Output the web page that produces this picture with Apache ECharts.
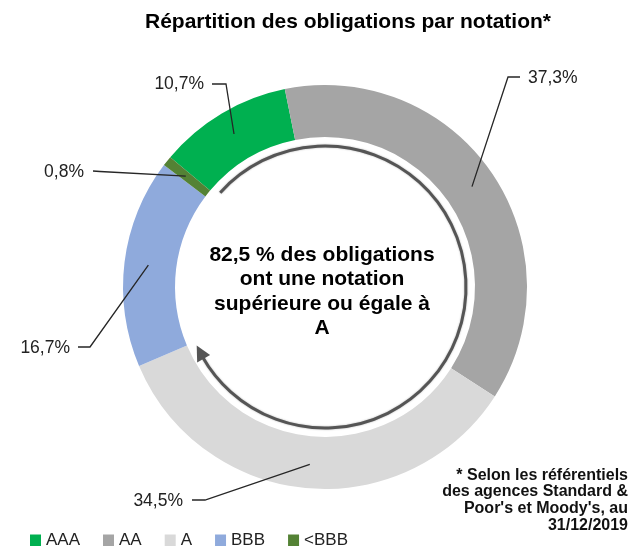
<!DOCTYPE html>
<html>
<head>
<meta charset="utf-8">
<script src="https://cdn.jsdelivr.net/npm/echarts@6/dist/echarts.min.js"></script>
<style>
html, body { margin: 0; padding: 0; background: #fff; }
#main { width: 633px; height: 546px; }
</style>
</head>
<body>
<div id="main"></div>
<script>
// données
var ratings = ['AAA', 'AA', 'A', 'BBB', '<BBB'];
var shares = [10.7, 37.3, 34.5, 16.7, 0.8];
var colors = ['#00b050', '#a5a5a5', '#d9d9d9', '#8faadc', '#548235'];

// position des étiquettes et coudes des traits de rappel (même ordre que ratings)
var labelPos = [[204, 84], [528, 78], [183, 501], [70, 348], [84, 172]];
var labelAlign = ['right', 'left', 'right', 'right', 'right'];
var leaderPts = [
  [[226, 84], [212, 84]],
  [[508, 77], [520, 77]],
  [[205, 500], [192, 500]],
  [[90, 347], [78, 347]],
  [[100, 171.5], [93, 171]]
];

var cx = 325, cy = 287, rIn = 150, rOut = 202, rArrow = 141;
var startAngle = 140; // degrés echarts (sens trigo depuis 3h)

var total = shares.reduce(function (a, b) { return a + b; }, 0);
var topA = shares[0] + shares[1] + shares[2]; // AAA + AA + A

// angle horaire depuis midi -> point
function pt(theta, r) {
  var t = theta * Math.PI / 180;
  return [cx + r * Math.sin(t), cy - r * Math.cos(t)];
}

// angles des parts (horaire depuis midi)
var a0 = 90 - startAngle, cum = 0, bounds = [];
for (var i = 0; i < shares.length; i++) {
  var s = a0 + 360 * cum / total;
  cum += shares[i];
  var e = a0 + 360 * cum / total;
  bounds.push([s, e]);
}

var graphics = [];
// traits de rappel
for (var k = 0; k < shares.length; k++) {
  var mid = (bounds[k][0] + bounds[k][1]) / 2;
  graphics.push({
    type: 'polyline', z: 20, silent: true,
    shape: { points: [pt(mid, 178), leaderPts[k][0], leaderPts[k][1]] },
    style: { stroke: '#262626', lineWidth: 1.3, fill: null }
  });
}

// flèche circulaire (AAA -> A)
var arcStart = bounds[0][0] + 2;
var tip = bounds[2][1] - 1.5;
var headLen = 15 / rArrow * 180 / Math.PI;
var arcEnd = tip - headLen + 1;
graphics.push({
  type: 'arc', z: 20, silent: true,
  shape: { cx: cx, cy: cy, r: rArrow, startAngle: (arcStart - 90) * Math.PI / 180, endAngle: (arcEnd - 90) * Math.PI / 180, clockwise: true },
  style: { stroke: '#555555', lineWidth: 3, fill: null, shadowBlur: 2, shadowColor: 'rgba(0,0,0,0.3)' }
});
var baseT = tip - headLen;
graphics.push({
  type: 'polygon', z: 20, silent: true,
  shape: { points: [pt(tip, rArrow), pt(baseT, rArrow + 7.5), pt(baseT, rArrow - 7.5)] },
  style: { fill: '#555555' }
});

// texte central
graphics.push({
  type: 'text', z: 20, silent: true, x: 322, y: 243,
  style: {
    text: topA.toFixed(1).replace('.', ',') + ' % des obligations\nont une notation\nsupérieure ou égale à\nA',
    align: 'center', textAlign: 'center', verticalAlign: 'top', textVerticalAlign: 'top',
    font: 'bold 21px "Liberation Sans", Arial, sans-serif', lineHeight: 24.3, fill: '#000'
  }
});

// note de bas de page
graphics.push({
  type: 'text', z: 20, silent: true, x: 628, y: 467,
  style: {
    text: "* Selon les référentiels\ndes agences Standard &\nPoor's et Moody's, au\n31/12/2019",
    align: 'right', textAlign: 'right', verticalAlign: 'top', textVerticalAlign: 'top',
    font: 'bold 16px "Liberation Sans", Arial, sans-serif', lineHeight: 16.7, fill: '#111'
  }
});

var chart = echarts.init(document.getElementById('main'));
var option = {
  animation: false,
  color: colors,
  title: {
    text: 'Répartition des obligations par notation*',
    left: 145, top: 12, padding: 0,
    textStyle: { fontFamily: 'Liberation Sans', fontSize: 21, fontWeight: 'bold', color: '#000' }
  },
  legend: {
    data: ratings,
    left: 30, top: 532, padding: 0,
    itemWidth: 11, itemHeight: 12, itemGap: 23,
    icon: 'rect',
    textStyle: { fontFamily: 'Liberation Sans', fontSize: 17, color: '#222' }
  },
  series: [
    {
      type: 'pie',
      center: [cx, cy],
      radius: [rIn, rOut],
      startAngle: startAngle,
      clockwise: true,
      avoidLabelOverlap: false,
      emphasis: { disabled: true },
      label: {
        show: true, position: 'outside',
        fontFamily: 'Liberation Sans', fontSize: 17.5, color: '#222',
        formatter: function (p) { return p.value.toFixed(1).replace('.', ',') + '%'; }
      },
      labelLine: { show: false },
      labelLayout: function (p) {
        var pos = labelPos[p.dataIndex];
        return { x: pos[0], y: pos[1], align: labelAlign[p.dataIndex], verticalAlign: 'middle' };
      },
      data: ratings.map(function (r, i) { return { name: r, value: shares[i] }; })
    }
  ],
  graphic: { elements: graphics }
};
chart.setOption(option);
</script>
</body>
</html>
